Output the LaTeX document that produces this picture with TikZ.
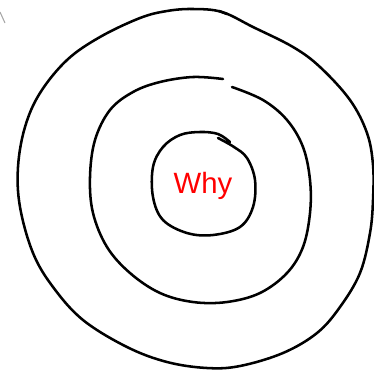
\documentclass[tikz,border=0pt]{standalone}
\usepackage{fontspec}
\setmainfont{Liberation Sans}
\tikzset{>=latex}
\tikzset{
  ring/.style={line width=1.9pt,line cap=round,line join=round},
}

\begin{document}
\begin{tikzpicture}[x=0.75pt,y=-0.75pt]
  \pgfmathsetmacro{\Width}{374};
  \pgfmathsetmacro{\Height}{372};
  \useasboundingbox (0,0) rectangle ({\Width},{\Height});
  % 
  \draw[gray!70,line width=0.8pt] (0,12) coordinate (S1) -- (5,23) coordinate (S2);
  % 
  \draw[ring] plot[smooth cycle,tension=0.6] coordinates {
    (193,9) (222,12) (253,27) (293,47) (320,67) (350,100) (367,133) (373,165)
    (373,200) (370,233) (360,273) (340,307) (317,333) (283,353) (240,366)
    (207,368) (167,362) (127,347) (83,320) (53,287) (33,253) (20,207)
    (18,167) (25,127) (40,93) (67,60) (100,37) (140,18) (167,11)};
  \draw[ring] (219,11) -- (227,14);
  % 
  \draw[ring] plot[smooth,tension=0.6] coordinates {
    (232,87) (263,100) (287,120) (303,147) (310,180) (310,213) (303,247)
    (287,273) (260,293) (227,302) (193,302) (160,293) (130,273) (107,247)
    (93,213) (90,177) (95,140) (110,110) (133,92) (160,82) (193,77) (223,79)};
  % 
  \draw[ring] plot[smooth,tension=0.6] coordinates {
    (218,138) (234,147) (247,158) (255,180) (253,207) (240,227) (213,235)
    (187,233) (163,220) (153,197) (153,167) (163,147) (180,135) (200,132)
    (218,134) (230,142)};
  % 
  \node[red,font=\fontsize{22}{26}\selectfont] (why) at (203,186) {Why};
\end{tikzpicture}
\end{document}
